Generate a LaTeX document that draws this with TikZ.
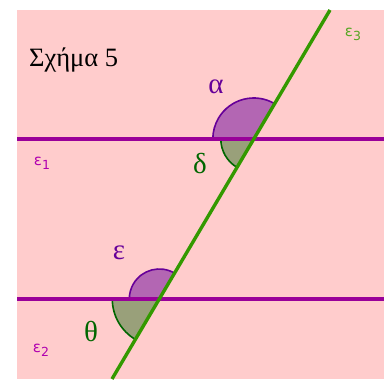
\documentclass[tikz,border=0pt]{standalone}
\usepackage{fontspec}
\setmainfont{Liberation Serif}
\newfontfamily\lblfont{DejaVu Sans}
\usetikzlibrary{calc}
\definecolor{bgpink}{HTML}{FFCCCC}
\definecolor{linepurple}{HTML}{990099}
\definecolor{linegreen}{HTML}{339900}
\definecolor{arcpurple}{HTML}{660099}
\definecolor{fillpurple}{HTML}{B366B3}
\definecolor{arcgreen}{HTML}{006600}
\definecolor{fillgreen}{HTML}{99A07A}
\definecolor{lblmagenta}{HTML}{B000B0}
\definecolor{lblgreen}{HTML}{55A622}
\newcommand{\linesub}[1]{\raisebox{-4pt}{\fontsize{12.5}{12.5}\selectfont#1}}

\begin{document}
\begin{tikzpicture}[x=1pt, y=1pt, every node/.style={inner sep=0pt},
	greek/.style={font=\fontsize{29}{29}\selectfont},
	small/.style={font=\lblfont\fontsize{15}{15}\selectfont},
	angarc/.style={line width=1.6pt}]
	\useasboundingbox (0,0) rectangle (387,379);
	\fill[bgpink] (17,0) rectangle (384,369);
	% lines and crossing points
	\coordinate (L1a) at (17,240); \coordinate (L1b) at (384,240);
	\coordinate (L2a) at (17,80); \coordinate (L2b) at (384,80);
	\coordinate (Ttop) at (330,369); \coordinate (Tbot) at (112,0);
	\coordinate (P1) at (253.8,240); \coordinate (P2) at (159.3,80);
	% angles
	\fill[fillpurple] (P1) -- ++(59.4:41) arc (59.4:180:41) -- cycle;
	\draw[arcpurple, angarc] (P1) ++(59.4:41) arc (59.4:180:41);
	\fill[fillgreen] (P1) -- ++(180:33) arc (180:239.4:33) -- cycle;
	\draw[arcgreen, angarc] (P1) ++(180:33) arc (180:239.4:33);
	\fill[fillpurple] (P2) -- ++(59.4:30) arc (59.4:180:30) -- cycle;
	\draw[arcpurple, angarc] (P2) ++(59.4:30) arc (59.4:180:30);
	\fill[fillgreen] (P2) -- ++(180:47) arc (180:239.4:47) -- cycle;
	\draw[arcgreen, angarc] (P2) ++(180:47) arc (180:239.4:47);
	\draw[linepurple, line width=3.4pt] (L1a) -- (L1b);
	\draw[linepurple, line width=3.4pt] (L2a) -- (L2b);
	\draw[linegreen, line width=3.4pt] (Tbot) -- (Ttop);
	% labels
	\node[anchor=west, font=\fontsize{26.5}{26.5}\selectfont] (title) at (29,319) {Σχήμα 5};
	\node[greek, text=arcpurple] (alpha) at (216,292) {α};
	\node[greek, text=arcgreen] (delta) at (200,215) {δ};
	\node[greek, text=arcpurple] (eps) at (119,126) {ε};
	\node[greek, text=arcgreen] (theta) at (91,47) {θ};
	\node[small, text=lblmagenta] (e1) at (42,216) {ε\linesub{1}};
	\node[small, text=lblmagenta] (e2) at (41,29) {ε\linesub{2}};
	\node[small, text=lblgreen] (e3) at (353,345) {ε\linesub{3}};
\end{tikzpicture}
\end{document}
